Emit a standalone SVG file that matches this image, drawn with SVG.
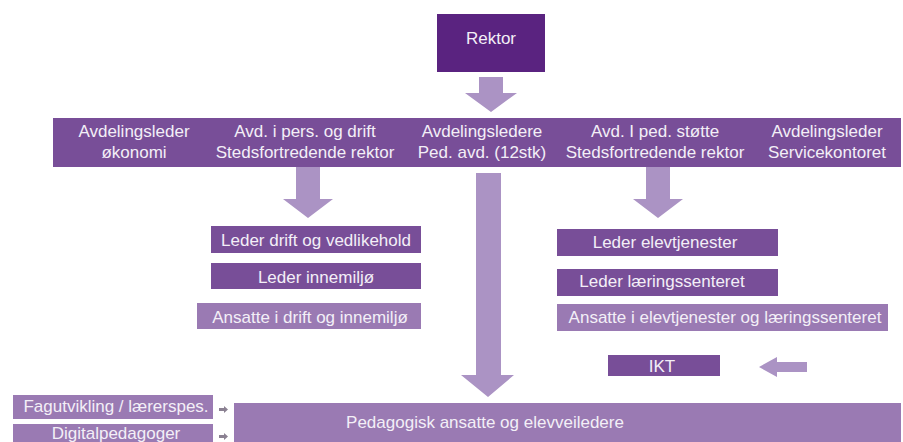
<svg xmlns="http://www.w3.org/2000/svg" width="903" height="442" viewBox="0 0 903 442">
<style>
  text { font-family: "Liberation Sans", Arial, sans-serif; font-size: 17px; fill: #f3eff7; text-anchor: middle; }
  .top { fill: #5a2380; }
  .dark { fill: #784e98; }
  .light { fill: #9a7ab3; }
  .arrow { fill: #ab93c4; }
  .small { fill: #8b8192; }
</style>
<rect width="903" height="442" fill="#ffffff"/>
<g id="connectors">
  <polygon class="arrow" points="479,77 503,77 503,93 517,93 491,112 465,93 479,93"/>
  <polygon class="arrow" points="296,167 320,167 320,199 333,199 308,218 283,199 296,199"/>
  <polygon class="arrow" points="646,167 670,167 670,199 683,199 658,218 633,199 646,199"/>
  <polygon class="arrow" points="476,173 501,173 501,375 514,375 488,397 461,375 476,375"/>
  <polygon class="arrow" points="807,362 777,362 777,357 759,367 777,377 777,372 807,372"/>
  <polygon class="small" points="219,408 224,408 224,406 228,409.5 224,413 224,411 219,411"/>
  <polygon class="small" points="219,435 224,435 224,433 228,436.5 224,440 224,438 219,438"/>
</g>
<g id="rektor">
  <rect class="top" x="437" y="14" width="108" height="58"/>
  <text x="491" y="44">Rektor</text>
</g>
<g id="ledergruppe">
  <rect class="dark" x="53" y="118" width="848" height="49"/>
  <text x="134" y="137">Avdelingsleder</text>
  <text x="134" y="158">økonomi</text>
  <text x="305" y="137">Avd. i pers. og drift</text>
  <text x="305" y="158">Stedsfortredende rektor</text>
  <text x="482" y="137">Avdelingsledere</text>
  <text x="482" y="158">Ped. avd. (12stk)</text>
  <text x="655" y="137">Avd. I ped. støtte</text>
  <text x="655" y="158">Stedsfortredende rektor</text>
  <text x="827" y="137">Avdelingsleder</text>
  <text x="827" y="158">Servicekontoret</text>
</g>
<g id="leder-drift">
  <rect class="dark" x="211" y="226" width="210" height="27"/>
  <text x="316" y="246">Leder drift og vedlikehold</text>
</g>
<g id="leder-innemiljo">
  <rect class="dark" x="211" y="263" width="210" height="26"/>
  <text x="316" y="283">Leder innemiljø</text>
</g>
<g id="ansatte-drift">
  <rect class="light" x="197" y="303" width="224" height="26"/>
  <text x="310" y="323">Ansatte i drift og innemiljø</text>
</g>
<g id="leder-elevtjenester">
  <rect class="dark" x="557" y="229" width="221" height="27"/>
  <text x="665" y="248">Leder elevtjenester</text>
</g>
<g id="leder-laeringssenteret">
  <rect class="dark" x="557" y="269" width="221" height="27"/>
  <text x="662" y="287">Leder læringssenteret</text>
</g>
<g id="ansatte-elevtjenester">
  <rect class="light" x="557" y="304" width="331" height="27"/>
  <text x="725" y="323">Ansatte i elevtjenester og læringssenteret</text>
</g>
<g id="ikt">
  <rect class="dark" x="608" y="355" width="112" height="21"/>
  <text x="662" y="372">IKT</text>
</g>
<g id="fagutvikling">
  <rect class="light" x="13" y="395" width="200" height="24"/>
  <text x="116" y="412">Fagutvikling / lærerspes.</text>
</g>
<g id="digitalpedagoger">
  <rect class="light" x="13" y="424" width="200" height="24"/>
  <text x="116" y="438.5">Digitalpedagoger</text>
</g>
<g id="pedagogisk">
  <rect class="light" x="234" y="403" width="667" height="45"/>
  <text x="485" y="428">Pedagogisk ansatte og elevveiledere</text>
</g>
</svg>
